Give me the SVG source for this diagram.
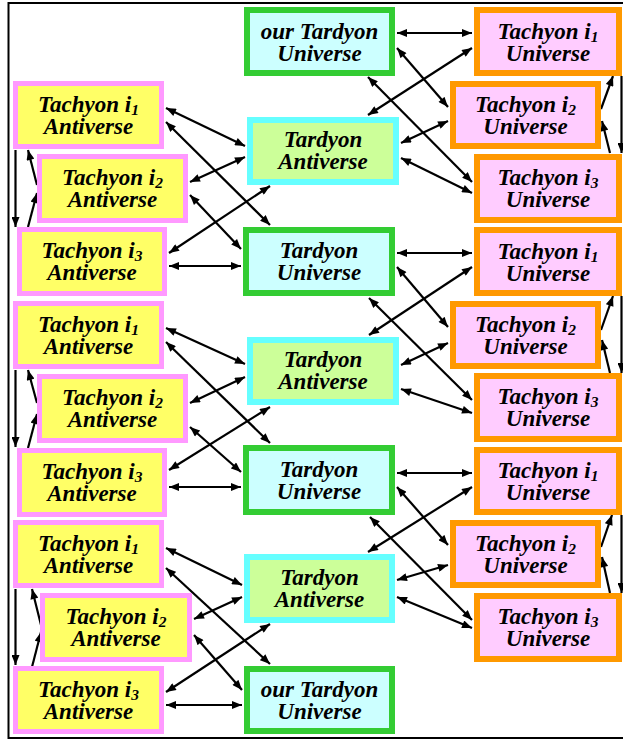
<svg xmlns="http://www.w3.org/2000/svg" width="623" height="740" viewBox="0 0 623 740">
<defs>
<style>
.t{font-family:"Liberation Serif","Times New Roman",serif;font-weight:bold;font-style:italic;font-size:23px;text-anchor:middle;fill:#000}
.sub{font-size:15.5px}
.la{fill:#ffff66;stroke:#ff99ff;stroke-width:5}
.ra{fill:#ffccff;stroke:#ff9900;stroke-width:6}
.cu{fill:#ccffff;stroke:#33cc33;stroke-width:6}
.ca{fill:#ccff99;stroke:#66ffff;stroke-width:6}
.c line{stroke:#000;stroke-width:2.2}
.d{marker-start:url(#ah);marker-end:url(#ah)}
.s{marker-end:url(#ah)}
</style>
<marker id="ah" viewBox="0 0 10 8" refX="10" refY="4" markerWidth="11" markerHeight="8" markerUnits="userSpaceOnUse" orient="auto-start-reverse"><path d="M0,0L10,4L0,8z" fill="#000"/></marker>
</defs>
<rect x="8.5" y="3" width="700" height="735" fill="#fff" stroke="#000" stroke-width="2"/>

<g id="connectors" class="c">
<!-- right block 1 -->
<line class="d" x1="397" y1="33" x2="472" y2="33"/>
<line class="d" x1="397" y1="48" x2="448" y2="107"/>
<line class="d" x1="368" y1="77" x2="472" y2="182"/>
<line class="d" x1="368" y1="115" x2="472" y2="48"/>
<line class="d" x1="401" y1="143" x2="448" y2="121"/>
<line class="d" x1="401" y1="158" x2="472" y2="193"/>
<!-- right block 2 -->
<line class="d" x1="397" y1="253" x2="472" y2="253"/>
<line class="d" x1="397" y1="267" x2="448" y2="327"/>
<line class="d" x1="369" y1="298" x2="472" y2="400"/>
<line class="d" x1="369" y1="335" x2="472" y2="267"/>
<line class="d" x1="401" y1="365" x2="448" y2="343"/>
<line class="d" x1="401" y1="389" x2="472" y2="413"/>
<!-- right block 3 -->
<line class="d" x1="397" y1="473" x2="472" y2="473"/>
<line class="d" x1="397" y1="487" x2="448" y2="545"/>
<line class="d" x1="370" y1="517" x2="472" y2="620"/>
<line class="d" x1="368" y1="552" x2="472" y2="487"/>
<line class="d" x1="397" y1="580" x2="448" y2="565"/>
<line class="d" x1="397" y1="597" x2="472" y2="628"/>
<!-- left block 1 -->
<line class="d" x1="166" y1="108" x2="245" y2="146"/>
<line class="d" x1="166" y1="122" x2="270" y2="225"/>
<line class="d" x1="190" y1="182" x2="245" y2="157"/>
<line class="d" x1="190" y1="195" x2="241" y2="249"/>
<line class="d" x1="169" y1="253" x2="270" y2="186"/>
<line class="d" x1="169" y1="266" x2="241" y2="266"/>
<!-- left block 2 -->
<line class="d" x1="166" y1="328" x2="245" y2="364"/>
<line class="d" x1="166" y1="342" x2="270" y2="443"/>
<line class="d" x1="190" y1="403" x2="245" y2="377"/>
<line class="d" x1="190" y1="427" x2="241" y2="472"/>
<line class="d" x1="169" y1="470" x2="270" y2="407"/>
<line class="d" x1="169" y1="487" x2="241" y2="487"/>
<!-- left block 3 -->
<line class="d" x1="166" y1="548" x2="242" y2="585"/>
<line class="d" x1="166" y1="568" x2="270" y2="664"/>
<line class="d" x1="194" y1="619" x2="242" y2="597"/>
<line class="d" x1="194" y1="635" x2="242" y2="690"/>
<line class="d" x1="166" y1="692" x2="270" y2="624"/>
<line class="d" x1="166" y1="705" x2="242" y2="705"/>
<!-- left cycles -->
<line class="s" x1="15.5" y1="150" x2="15.5" y2="227"/>
<line class="s" x1="28" y1="227" x2="37" y2="193"/>
<line class="s" x1="37" y1="185" x2="28" y2="150"/>
<line class="s" x1="15.5" y1="370" x2="15.5" y2="447"/>
<line class="s" x1="28" y1="448" x2="37" y2="414"/>
<line class="s" x1="37" y1="403" x2="28" y2="370"/>
<line class="s" x1="15.5" y1="589" x2="15.5" y2="665"/>
<line class="s" x1="32" y1="667" x2="41" y2="632"/>
<line class="s" x1="41" y1="625" x2="32" y2="589"/>
<!-- right cycles -->
<line class="s" x1="621.5" y1="76" x2="621.5" y2="153"/>
<line class="s" x1="601" y1="109" x2="613" y2="76"/>
<line class="s" x1="610" y1="153" x2="602" y2="121"/>
<line class="s" x1="621.5" y1="296" x2="621.5" y2="373"/>
<line class="s" x1="601" y1="330" x2="613" y2="296"/>
<line class="s" x1="610" y1="373" x2="602" y2="340"/>
<line class="s" x1="621.5" y1="515" x2="621.5" y2="593"/>
<line class="s" x1="601" y1="547" x2="612" y2="515"/>
<line class="s" x1="610" y1="593" x2="602" y2="557"/>
</g>

<!-- center column -->
<g id="our-tardyon-universe-top"><rect class="cu" x="247" y="10" width="145" height="63"/><text class="t" x="319.5" y="39">our Tardyon</text><text class="t" x="319.5" y="61">Universe</text></g>
<g id="tardyon-antiverse-1"><rect class="ca" x="250" y="120" width="146" height="62"/><text class="t" x="323" y="147">Tardyon</text><text class="t" x="323" y="169">Antiverse</text></g>
<g id="tardyon-universe-1"><rect class="cu" x="246" y="230" width="146" height="63"/><text class="t" x="319" y="258">Tardyon</text><text class="t" x="319" y="280">Universe</text></g>
<g id="tardyon-antiverse-2"><rect class="ca" x="250" y="340" width="146" height="62"/><text class="t" x="323" y="367">Tardyon</text><text class="t" x="323" y="389">Antiverse</text></g>
<g id="tardyon-universe-2"><rect class="cu" x="246" y="448" width="146" height="64"/><text class="t" x="319" y="477">Tardyon</text><text class="t" x="319" y="499">Universe</text></g>
<g id="tardyon-antiverse-3"><rect class="ca" x="247" y="557" width="145" height="63"/><text class="t" x="319.5" y="585">Tardyon</text><text class="t" x="319.5" y="607">Antiverse</text></g>
<g id="our-tardyon-universe-bottom"><rect class="cu" x="247" y="669" width="145" height="62"/><text class="t" x="319.5" y="697">our Tardyon</text><text class="t" x="319.5" y="719">Universe</text></g>

<!-- left column -->
<g id="tachyon-i1-antiverse-1"><rect class="la" x="15.5" y="83.5" width="146" height="63"/><text class="t" x="88.5" y="112">Tachyon i<tspan class="sub" dy="3">1</tspan></text><text class="t" x="88.5" y="134">Antiverse</text></g>
<g id="tachyon-i2-antiverse-1"><rect class="la" x="39.5" y="156.5" width="146" height="64"/><text class="t" x="112.5" y="185">Tachyon i<tspan class="sub" dy="3">2</tspan></text><text class="t" x="112.5" y="207">Antiverse</text></g>
<g id="tachyon-i3-antiverse-1"><rect class="la" x="19.5" y="229.5" width="145" height="64"/><text class="t" x="92" y="258">Tachyon i<tspan class="sub" dy="3">3</tspan></text><text class="t" x="92" y="280">Antiverse</text></g>
<g id="tachyon-i1-antiverse-2"><rect class="la" x="15.5" y="303.5" width="146" height="63"/><text class="t" x="88.5" y="332">Tachyon i<tspan class="sub" dy="3">1</tspan></text><text class="t" x="88.5" y="354">Antiverse</text></g>
<g id="tachyon-i2-antiverse-2"><rect class="la" x="39.5" y="376.5" width="146" height="64"/><text class="t" x="112.5" y="405">Tachyon i<tspan class="sub" dy="3">2</tspan></text><text class="t" x="112.5" y="427">Antiverse</text></g>
<g id="tachyon-i3-antiverse-2"><rect class="la" x="19.5" y="450.5" width="145" height="64"/><text class="t" x="92" y="479">Tachyon i<tspan class="sub" dy="3">3</tspan></text><text class="t" x="92" y="501">Antiverse</text></g>
<g id="tachyon-i1-antiverse-3"><rect class="la" x="15.5" y="522.5" width="146" height="63"/><text class="t" x="88.5" y="551">Tachyon i<tspan class="sub" dy="3">1</tspan></text><text class="t" x="88.5" y="573">Antiverse</text></g>
<g id="tachyon-i2-antiverse-3"><rect class="la" x="42.5" y="595.5" width="147" height="64"/><text class="t" x="116" y="624">Tachyon i<tspan class="sub" dy="3">2</tspan></text><text class="t" x="116" y="646">Antiverse</text></g>
<g id="tachyon-i3-antiverse-3"><rect class="la" x="15.5" y="668.5" width="146" height="63"/><text class="t" x="88.5" y="697">Tachyon i<tspan class="sub" dy="3">3</tspan></text><text class="t" x="88.5" y="719">Antiverse</text></g>

<!-- right column -->
<g id="tachyon-i1-universe-1"><rect class="ra" x="477" y="10" width="142" height="63"/><text class="t" x="548" y="39">Tachyon i<tspan class="sub" dy="3">1</tspan></text><text class="t" x="548" y="61">Universe</text></g>
<g id="tachyon-i2-universe-1"><rect class="ra" x="453" y="84" width="145" height="62"/><text class="t" x="525.5" y="112">Tachyon i<tspan class="sub" dy="3">2</tspan></text><text class="t" x="525.5" y="134">Universe</text></g>
<g id="tachyon-i3-universe-1"><rect class="ra" x="477" y="157" width="142" height="63"/><text class="t" x="548" y="185">Tachyon i<tspan class="sub" dy="3">3</tspan></text><text class="t" x="548" y="207">Universe</text></g>
<g id="tachyon-i1-universe-2"><rect class="ra" x="477" y="230" width="142" height="63"/><text class="t" x="548" y="259">Tachyon i<tspan class="sub" dy="3">1</tspan></text><text class="t" x="548" y="281">Universe</text></g>
<g id="tachyon-i2-universe-2"><rect class="ra" x="453" y="304" width="145" height="62"/><text class="t" x="525.5" y="332">Tachyon i<tspan class="sub" dy="3">2</tspan></text><text class="t" x="525.5" y="354">Universe</text></g>
<g id="tachyon-i3-universe-2"><rect class="ra" x="477" y="376" width="142" height="63"/><text class="t" x="548" y="404">Tachyon i<tspan class="sub" dy="3">3</tspan></text><text class="t" x="548" y="426">Universe</text></g>
<g id="tachyon-i1-universe-3"><rect class="ra" x="477" y="450" width="142" height="62"/><text class="t" x="548" y="478">Tachyon i<tspan class="sub" dy="3">1</tspan></text><text class="t" x="548" y="500">Universe</text></g>
<g id="tachyon-i2-universe-3"><rect class="ra" x="453" y="523" width="145" height="62"/><text class="t" x="525.5" y="551">Tachyon i<tspan class="sub" dy="3">2</tspan></text><text class="t" x="525.5" y="573">Universe</text></g>
<g id="tachyon-i3-universe-3"><rect class="ra" x="477" y="596" width="142" height="63"/><text class="t" x="548" y="624">Tachyon i<tspan class="sub" dy="3">3</tspan></text><text class="t" x="548" y="646">Universe</text></g>
</svg>
